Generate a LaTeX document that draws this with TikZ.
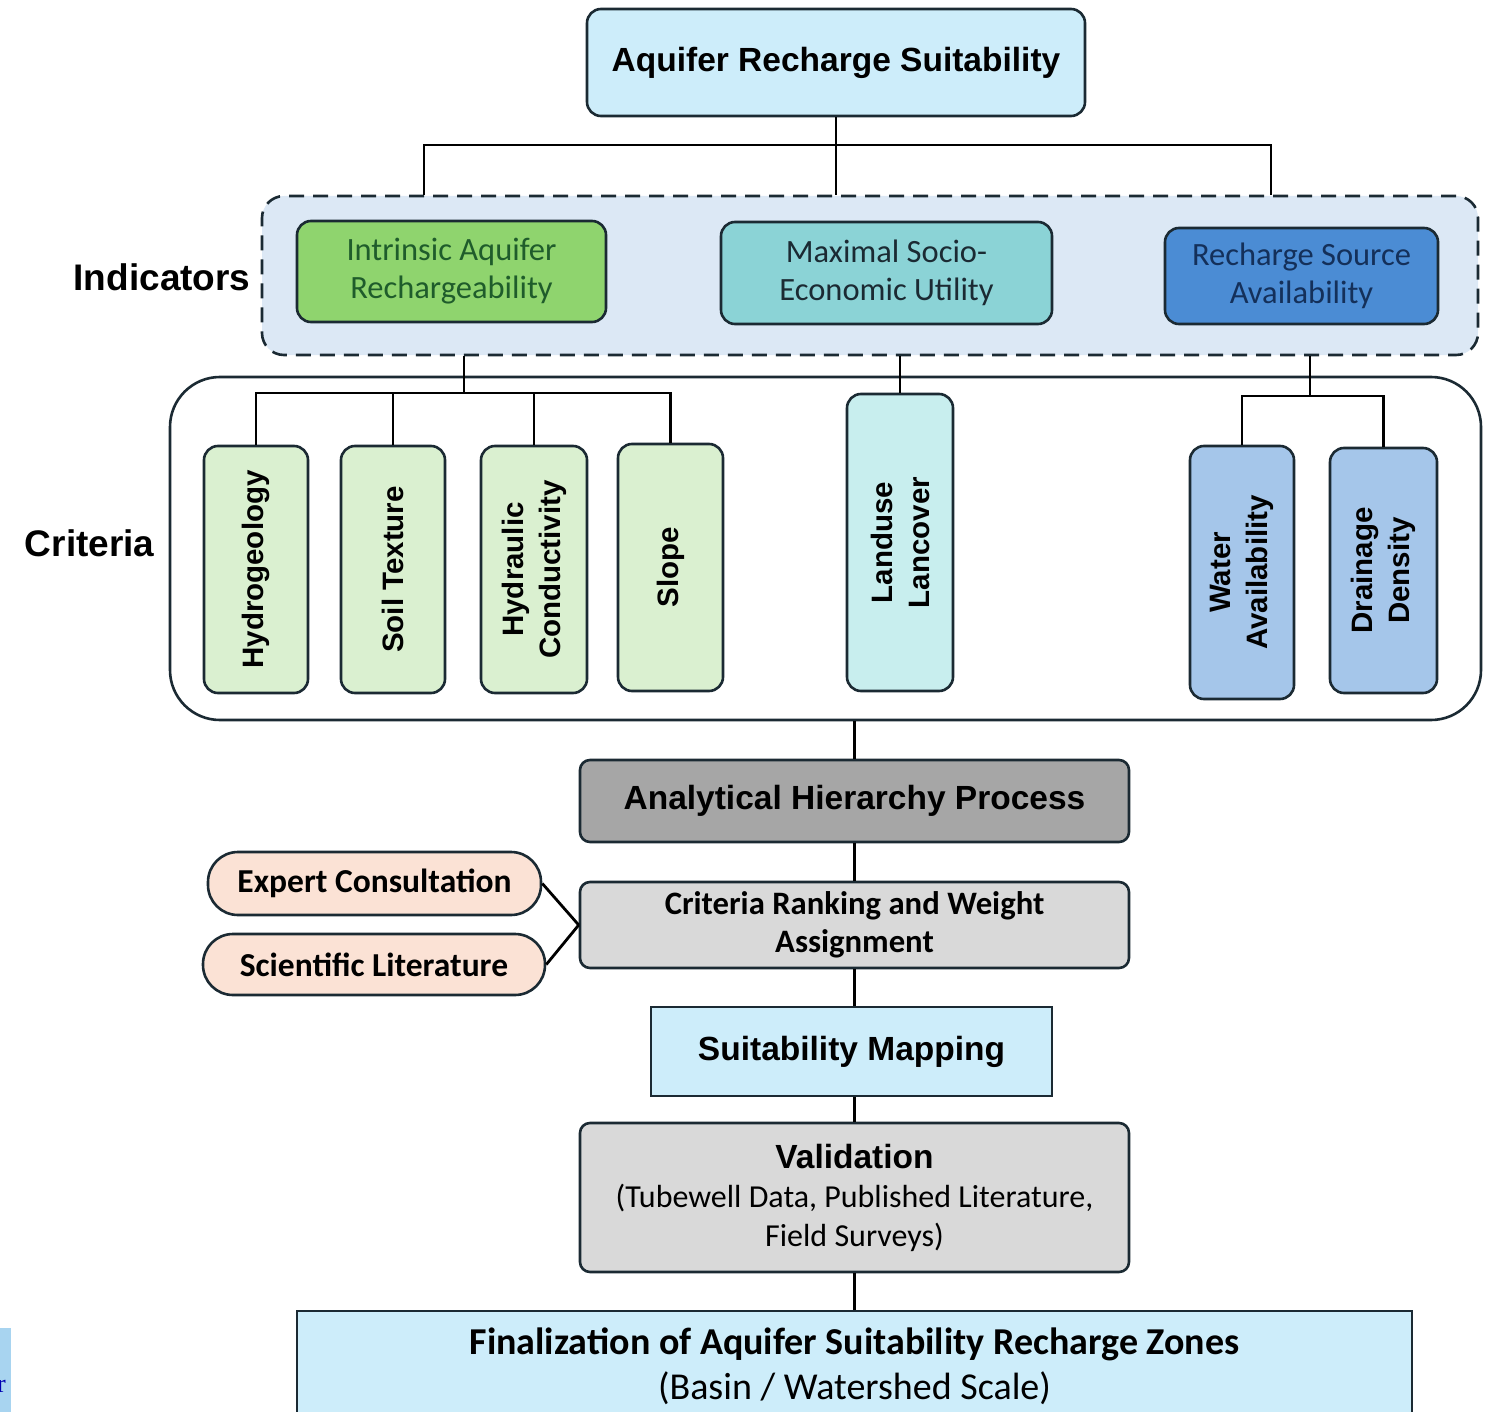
\documentclass[tikz,border=0pt]{standalone}
\usepackage{fontspec}
\setmainfont{Carlito}
\newfontfamily\widefont{Liberation Sans}
\newfontfamily\timesfont{Liberation Serif}
\usetikzlibrary{positioning,calc}

\definecolor{edge}{HTML}{1B2A33}
\definecolor{paleblue}{HTML}{CDEDFA}
\definecolor{dashfill}{HTML}{DCE8F5}
\definecolor{greenind}{HTML}{8FD46E}
\definecolor{greentext}{HTML}{1F5C2B}
\definecolor{tealind}{HTML}{8BD3D6}
\definecolor{blueind}{HTML}{4B8CD4}
\definecolor{navytext}{HTML}{14305A}
\definecolor{greencrit}{HTML}{DAF0D0}
\definecolor{tealcrit}{HTML}{C8EEEE}
\definecolor{bluecrit}{HTML}{A5C6EA}
\definecolor{ahpgrey}{HTML}{A6A6A6}
\definecolor{lightgrey}{HTML}{D9D9D9}
\definecolor{peach}{HTML}{FBE2D5}
\definecolor{cropblue}{HTML}{A8D4F0}

\begin{document}
\begin{tikzpicture}[x=1pt,y=-1pt]
\clip (0,0) rectangle (1493,1412);

\tikzstyle{box}=[draw=edge,line width=2.6pt,rounded corners=14pt,align=center,inner sep=0pt]
\tikzstyle{widebold}=[font=\widefont\bfseries\fontsize{33.5}{38}\selectfont]
\tikzstyle{indbox}=[box,font=\fontsize{32.5}{38}\selectfont]
\tikzstyle{critbox}=[box,rotate=90,font=\widefont\bfseries\fontsize{29.5}{37}\selectfont,minimum width=247pt,minimum height=104pt]
\tikzstyle{stepbox}=[box,rounded corners=10pt,minimum width=549pt]
\tikzstyle{pill}=[box,fill=peach,rounded corners=30pt,font=\bfseries\fontsize{33.5}{36}\selectfont]
\tikzstyle{side}=[anchor=east,font=\widefont\bfseries\fontsize{37}{40}\selectfont]
\tikzstyle{link}=[line width=2.8pt,black]

   % goal
   \node (title_box) [box,widebold,fill=paleblue,minimum width=498pt,minimum height=107pt] at (836,62.5) {Aquifer Recharge Suitability};

   % indicators
   \node (ind_box) [draw=edge,fill=dashfill,line width=2.6pt,dash pattern=on 15pt off 9pt,rounded corners=22pt,minimum width=1216pt,minimum height=159pt] at (870,275.5) {};
   \node (ind_label) [side] at (254,277) {Indicators};
   \node (iar) [indbox,fill=greenind,text=greentext,minimum width=309pt,minimum height=101pt] at (451.5,271.5) {Intrinsic Aquifer\\Rechargeability};
   \node (mseu) [indbox,fill=tealind,text=edge,minimum width=331pt,minimum height=102pt] at (886.5,273) {Maximal Socio-\\Economic Utility};
   \node (rsa) [indbox,fill=blueind,text=navytext,minimum width=273pt,minimum height=96pt] at (1301.5,276) {Recharge Source\\Availability};

   \coordinate (split_top) at (836,145);
   \coordinate (br_l) at (424,145);
   \coordinate (br_r) at (1271,145);
   \draw[link] (title_box.south) -- (split_top);
   \draw[link] (br_l |- ind_box.north) -- (br_l) -- (br_r) -- (br_r |- ind_box.north);
   \draw[link] (split_top) -- (split_top |- ind_box.north);

   % criteria
   \node (crit_box) [draw=edge,fill=white,line width=2.6pt,rounded corners=50pt,minimum width=1311pt,minimum height=343pt] at (825.5,548.5) {};
   \node (crit_label) [side] at (158,543) {Criteria};

   \node (hydro) [critbox,fill=greencrit] at (256,569.5) {Hydrogeology};
   \node (soil) [critbox,fill=greencrit] at (393,569.5) {Soil Texture};
   \node (hcond) [critbox,fill=greencrit,minimum height=106pt] at (534,569.5) {Hydraulic\\Conductivity};
   \node (slope) [critbox,fill=greencrit,minimum height=105pt] at (670.5,567.5) {Slope};
   \node (landuse) [critbox,fill=tealcrit,minimum width=297pt,minimum height=106pt] at (900,542.5) {Landuse\\Lancover};
   \node (water) [critbox,fill=bluecrit,minimum width=253pt] at (1242,572.5) {Water\\Availability};
   \node (drain) [critbox,fill=bluecrit,minimum width=245pt,minimum height=107pt] at (1383.5,570.5) {Drainage\\Density};

   \coordinate (iar_bus) at (464,393);
   \draw[link] (iar_bus |- ind_box.south) -- (iar_bus);
   \draw[link] (hydro.east) -- (hydro.east |- iar_bus) -- (slope.east |- iar_bus) -- (slope.east);
   \foreach \c in {soil,hcond}
     \draw[link] (\c.east) -- (\c.east |- iar_bus);
   \draw[link] (landuse.east |- ind_box.south) -- (landuse.east);
   \coordinate (rsa_bus) at (1310,396);
   \draw[link] (rsa_bus |- ind_box.south) -- (rsa_bus);
   \draw[link] (water.east) -- (water.east |- rsa_bus) -- (drain.east |- rsa_bus) -- (drain.east);

   % weighting and mapping
   \node (ahp) [stepbox,widebold,fill=ahpgrey,minimum height=82pt] at (854.5,801) {Analytical Hierarchy Process};
   \node (crwa) [stepbox,fill=lightgrey,minimum height=86pt,font=\bfseries\fontsize{32.7}{38}\selectfont] at (854.5,925) {Criteria Ranking and Weight\\Assignment};
   \node (expert) [pill,minimum width=333pt,minimum height=63pt] at (374.5,883.5) {Expert Consultation};
   \node (sci) [pill,minimum width=342pt,minimum height=61pt] at (374,964.5) {Scientific Literature};
   \node (suit) [box,widebold,rounded corners=0pt,fill=paleblue,minimum width=401pt,minimum height=89pt] at (851.5,1051.5) {Suitability Mapping};
   \node (valid) [stepbox,fill=lightgrey,minimum height=149pt,font=\fontsize{32}{39}\selectfont] at (854.5,1197.5) {{\widefont\bfseries\fontsize{33.5}{39}\selectfont Validation}\\(Tubewell Data, Published Literature,\\Field Surveys)};
   \node (final) [box,rounded corners=0pt,fill=paleblue,minimum width=1115pt,minimum height=110pt,font=\fontsize{38}{45}\selectfont] at (854.5,1366) {{\bfseries Finalization of Aquifer Suitability Recharge Zones}\\(Basin / Watershed Scale)};

   \draw[link] (ahp.north |- crit_box.south) -- (ahp.north);
   \draw[link] (ahp.south) -- (crwa.north);
   \draw[link] (expert.east) -- (crwa.west);
   \draw[link] (sci.east) -- (crwa.west);
   \draw[link] (crwa.south) -- (crwa.south |- suit.north);
   \draw[link] (valid.north |- suit.south) -- (valid.north);
   \draw[link] (valid.south) -- (final.north);

   % cropped corner
   \fill[cropblue] (0,1328) rectangle (11,1412);
   \node (crop_r) [anchor=base west,inner sep=0pt,text=blue!70!black,font=\timesfont\fontsize{26}{26}\selectfont] at (-3,1392) {r};

\end{tikzpicture}
\end{document}
